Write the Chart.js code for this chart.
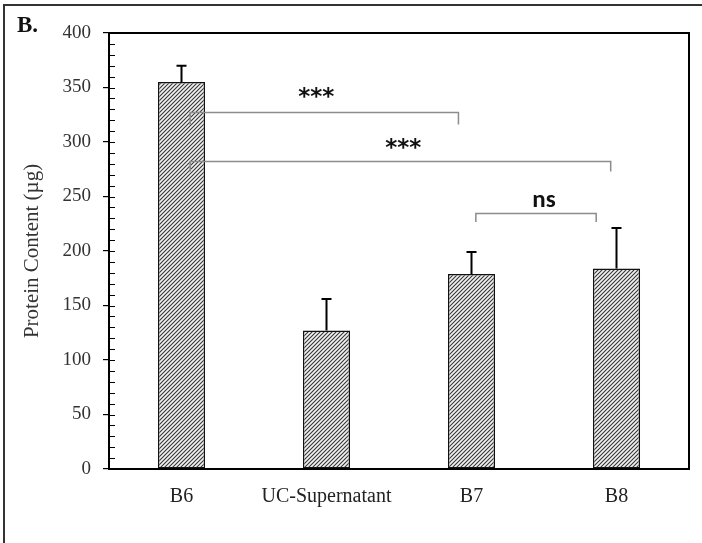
<!DOCTYPE html>
<html>
<head>
<meta charset="utf-8">
<script src="https://cdn.jsdelivr.net/npm/chart.js@4.4.0/dist/chart.umd.min.js"></script>
<style>
  html, body { margin: 0; padding: 0; background: #fff; }
  #wrap { width: 702px; height: 543px; position: relative; }
</style>
</head>
<body>
<div id="wrap"><canvas id="myChart"></canvas></div>
<script>
  // data
  const labels = ['B6', 'UC-Supernatant', 'B7', 'B8'];
  const protein = [355, 127, 179, 184];
  const proteinErr = [15, 29, 20, 37];
  const yMin = 0, yMax = 400, yStep = 50, yMinor = 10;

  // significance brackets: x in category units, y in µg
  const brackets = [
    { from: 0.06, to: 1.91, y: 327, drop: 11, label: '***', lx: 0.93, ly: 340 },
    { from: 0.06, to: 2.96, y: 282, drop: 9, label: '***', lx: 1.53, ly: 294 },
    { from: 2.03, to: 2.86, y: 234.5, drop: 8, label: 'ns', lx: 2.5, ly: 246 }
  ];

  const serif = '"Liberation Serif", "Times New Roman", serif';
  const sans = 'Carlito, "Liberation Sans", Arial, sans-serif';

  // diagonal hatch fill for the bars
  function hatch() {
    const c = document.createElement('canvas');
    c.width = 4; c.height = 4;
    const g = c.getContext('2d');
    g.fillStyle = '#f0f0f0';
    g.fillRect(0, 0, 4, 4);
    g.strokeStyle = '#333333';
    g.lineWidth = 1.05;
    g.beginPath();
    g.moveTo(0, 4); g.lineTo(4, 0);
    g.moveTo(-1, 1); g.lineTo(1, -1);
    g.moveTo(3, 5); g.lineTo(5, 3);
    g.stroke();
    return g.createPattern(c, 'repeat');
  }

  // frame, minor ticks, error bars and brackets
  const extras = {
    id: 'extras',
    beforeDraw(chart) {
      const ctx = chart.ctx;
      ctx.save();
      ctx.strokeStyle = '#333';
      ctx.lineWidth = 2;
      ctx.beginPath();
      ctx.moveTo(4, 700); ctx.lineTo(4, 5); ctx.lineTo(720, 5);
      ctx.stroke();
      ctx.fillStyle = '#111';
      ctx.font = 'bold 23px ' + serif;
      ctx.textBaseline = 'middle';
      ctx.fillText('B.', 17, 26);
      ctx.restore();
    },
    afterDatasetsDraw(chart) {
      const ctx = chart.ctx;
      const x = chart.scales.x, y = chart.scales.y;
      const a = chart.chartArea;
      ctx.save();

      // inner ticks on the y axis
      ctx.strokeStyle = '#000';
      ctx.lineWidth = 1.2;
      ctx.beginPath();
      for (let v = yMin; v <= yMax; v += yMinor) {
        const py = Math.round(y.getPixelForValue(v)) + 0.5;
        ctx.moveTo(a.left, py);
        ctx.lineTo(a.left + 6, py);
      }
      ctx.stroke();

      // box round the plot
      ctx.lineWidth = 2;
      ctx.strokeRect(a.left, a.top, a.right - a.left, a.bottom - a.top);

      // upper error bars
      const meta = chart.getDatasetMeta(0);
      ctx.lineWidth = 2;
      ctx.beginPath();
      meta.data.forEach((bar, i) => {
        const top = y.getPixelForValue(protein[i] + proteinErr[i]);
        ctx.moveTo(bar.x, bar.y);
        ctx.lineTo(bar.x, top);
        ctx.moveTo(bar.x - 5, top);
        ctx.lineTo(bar.x + 5, top);
      });
      ctx.stroke();

      // significance brackets
      const px = v => x.getPixelForValue(0) + v * (x.getPixelForValue(1) - x.getPixelForValue(0));
      ctx.strokeStyle = '#8c8c8c';
      ctx.lineWidth = 1.5;
      brackets.forEach(b => {
        const x0 = px(b.from), x1 = px(b.to);
        const yy = y.getPixelForValue(b.y), yd = y.getPixelForValue(b.y - b.drop);
        ctx.beginPath();
        ctx.moveTo(x0, yd);
        ctx.lineTo(x0, yy);
        ctx.lineTo(x1, yy);
        ctx.lineTo(x1, yd);
        ctx.stroke();
      });
      ctx.fillStyle = '#111';
      ctx.textAlign = 'center';
      ctx.textBaseline = 'middle';
      brackets.forEach(b => {
        ctx.font = b.label === 'ns' ? 'bold 25px ' + sans : 'bold 23px "DejaVu Sans", sans-serif';
        ctx.fillText(b.label, px(b.lx), y.getPixelForValue(b.ly));
      });
      ctx.restore();
    }
  };

  const data = {
    labels: labels,
    datasets: [{
      label: 'Protein Content',
      data: protein,
      backgroundColor: hatch(),
      borderColor: '#111',
      borderWidth: 1.5,
      borderSkipped: false,
      categoryPercentage: 1,
      barPercentage: 0.325
    }]
  };

  const config = {
    type: 'bar',
    data: data,
    options: {
      responsive: true,
      maintainAspectRatio: false,
      animation: false,
      layout: { padding: { left: 0, top: 33, right: 13, bottom: 0 } },
      plugins: { legend: { display: false }, tooltip: { enabled: false } },
      scales: {
        x: {
          grid: { display: false, drawTicks: false },
          border: { color: '#000', width: 2 },
          ticks: { color: '#222', font: { family: serif, size: 20 }, padding: 16 },
          afterFit(s) { s.height = 74; }
        },
        y: {
          min: yMin,
          max: yMax,
          grid: { drawOnChartArea: false, drawTicks: true, tickLength: 6, color: '#000', lineWidth: 1.2 },
          border: { color: '#000', width: 2 },
          ticks: { stepSize: yStep, color: '#333', font: { family: serif, size: 19 }, padding: 12 },
          title: {
            display: true,
            text: 'Protein Content (µg)',
            color: '#333',
            font: { family: serif, size: 21 },
            padding: { top: 20, bottom: 0 }
          },
          afterFit(s) { s.width = 109; }
        }
      }
    },
    plugins: [extras]
  };

  const myChart = new Chart(document.getElementById('myChart'), config);
</script>
</body>
</html>
